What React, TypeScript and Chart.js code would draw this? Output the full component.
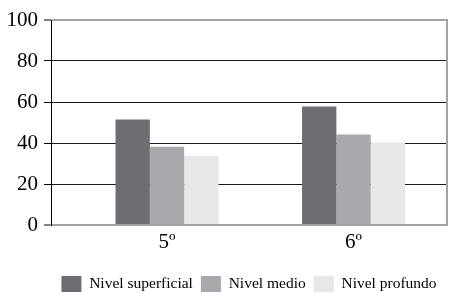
import React, { useEffect, useRef } from "react";
import { Chart, registerables } from "chart.js";

Chart.register(...registerables);

const categories = ["5º", "6º"];
const seriesNames = ["Nivel superficial", "Nivel medio", "Nivel profundo"];
const superficial = [51.5, 57.8];
const medio = [38.2, 44.1];
const profundo = [33.8, 40.3];
const yTicks = [0, 20, 40, 60, 80, 100];

const seriesValues = [superficial, medio, profundo];
const seriesColors = ["#6d6e71", "#a7a9ac", "#e6e7e8"];
const FONT = "'Liberation Serif', 'Times New Roman', serif";
const GRAY = "#a3a3a3";

export default function App() {
  const ref = useRef<HTMLCanvasElement | null>(null);
  useEffect(() => {
    if (!ref.current) return;
    const rightBorder = {
      id: "rightBorder",
      afterDatasetsDraw(chart: any) {
        const { ctx, chartArea } = chart;
        ctx.save();
        ctx.strokeStyle = GRAY;
        ctx.lineWidth = 2;
        ctx.beginPath();
        ctx.moveTo(chartArea.right, chartArea.top - 1);
        ctx.lineTo(chartArea.right, chartArea.bottom + 1);
        ctx.stroke();
        ctx.restore();
      },
    };
    const chart = new Chart(ref.current, {
      type: "bar",
      data: {
        datasets: seriesNames.map((name, s) => ({
          label: name,
          data: categories.map((_, i) => ({ x: i + 1, y: seriesValues[s][i] })),
          backgroundColor: seriesColors[s],
          borderWidth: 0,
          categoryPercentage: 0.552,
          barPercentage: 1,
        })),
      },
      options: {
        responsive: false,
        animation: false,
        layout: { padding: { top: 20, right: 5, bottom: -9, left: 0 } },
        plugins: {
          tooltip: { enabled: false },
          legend: {
            position: "bottom",
            fullSize: false,
            labels: {
              boxWidth: 20,
              boxHeight: 16,
              padding: 8,
              color: "#000",
              font: { family: FONT, size: 15.5 },
            },
          },
        },
        scales: {
          x: {
            type: "linear",
            offset: false,
            min: 0.378,
            max: 2.501,
            afterBuildTicks: (scale: any) => {
              scale.ticks = categories.map((_, i) => ({ value: i + 1 }));
            },
            afterFit: (scale: any) => {
              scale.height = 43;
            },
            grid: { display: false, drawTicks: false, offset: false },
            border: { display: true, color: GRAY, width: 2 },
            ticks: {
              padding: 5,
              color: "#000",
              font: { family: FONT, size: 21 },
              callback: (v: any) => categories[Math.round(v) - 1] ?? "",
            },
          },
          y: {
            min: 0,
            max: 100,
            afterBuildTicks: (scale: any) => {
              scale.ticks = yTicks.map((v) => ({ value: v }));
            },
            afterFit: (scale: any) => {
              scale.width = 51;
            },
            grid: {
              color: (ctx: any) =>
                ctx.tick && (ctx.tick.value === 0 || ctx.tick.value === 100) ? GRAY : "#1a1a1a",
              lineWidth: (ctx: any) =>
                ctx.tick && (ctx.tick.value === 0 || ctx.tick.value === 100) ? 2 : 1,
              tickColor: "#000",
              tickLength: 7,
              tickWidth: 1,
            },
            border: { display: true, color: "#000", width: 1 },
            ticks: {
              padding: 6,
              color: "#000",
              font: { family: FONT, size: 21 },
            },
          },
        },
      },
      plugins: [rightBorder],
    });
    return () => chart.destroy();
  }, []);
  return (
    <canvas
      ref={ref}
      width={452}
      height={293}
      style={{ position: "absolute", left: 0, top: 0, display: "block" }}
    />
  );
}
